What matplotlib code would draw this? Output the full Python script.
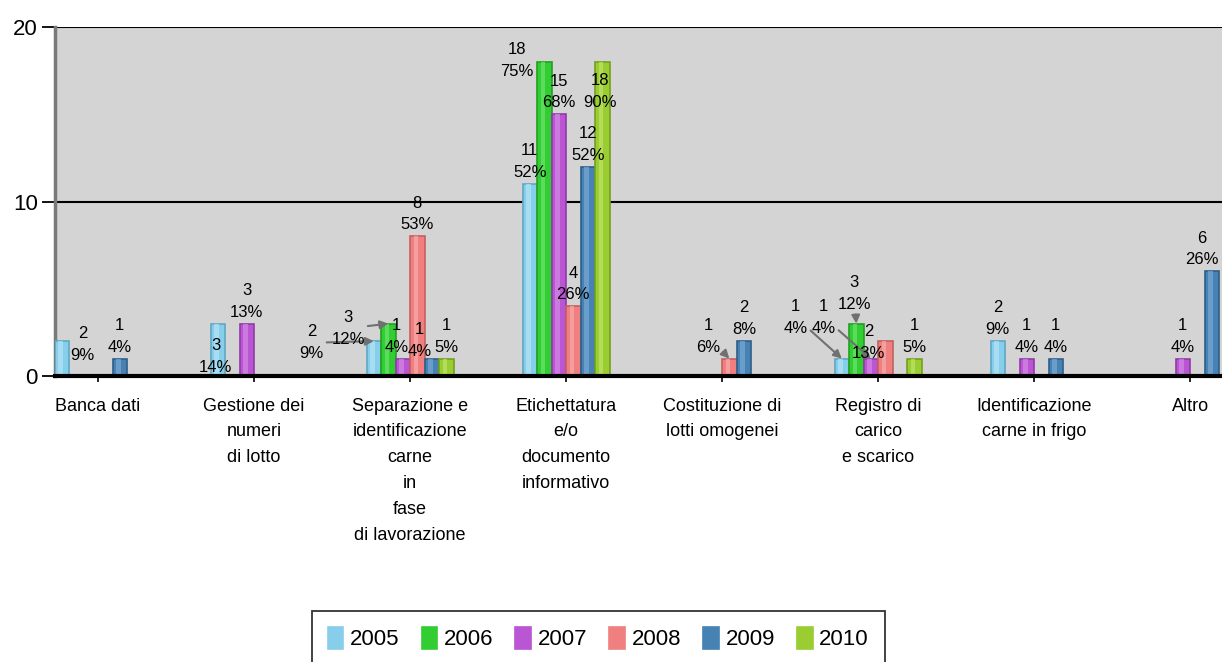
import matplotlib.pyplot as plt
import numpy as np

plt.rcParams['font.family'] = ['Liberation Sans', 'DejaVu Sans']

categories = ["Banca dati", "Gestione dei\nnumeri\ndi lotto",
              "Separazione e\nidentificazione\ncarne\nin\nfase\ndi lavorazione",
              "Etichettatura\ne/o\ndocumento\ninformativo",
              "Costituzione di\nlotti omogenei", "Registro di\ncarico\ne scarico",
              "Identificazione\ncarne in frigo", "Altro"]
years = ["2005", "2006", "2007", "2008", "2009", "2010"]

v2005 = [2, 3, 2, 11, 0, 1, 2, 0]
v2006 = [0, 0, 3, 18, 0, 3, 0, 0]
v2007 = [0, 3, 1, 15, 0, 1, 1, 1]
v2008 = [0, 0, 8, 4, 1, 2, 0, 0]
v2009 = [1, 0, 1, 12, 2, 0, 1, 6]
v2010 = [0, 0, 1, 18, 0, 1, 0, 0]

p2005 = [9, 14, 9, 52, 0, 4, 9, 0]
p2006 = [0, 0, 12, 75, 0, 12, 0, 0]
p2007 = [0, 13, 4, 68, 0, 4, 4, 4]
p2008 = [0, 0, 53, 26, 6, 13, 0, 0]
p2009 = [4, 0, 4, 52, 8, 0, 4, 26]
p2010 = [0, 0, 5, 90, 0, 5, 0, 0]

values = [v2005, v2006, v2007, v2008, v2009, v2010]
percents = [p2005, p2006, p2007, p2008, p2009, p2010]
colors = ["#87CEEB", "#32CD32", "#BA55D3", "#F08080", "#4682B4", "#9ACD32"]
edges = ["#5FA8C4", "#23A023", "#8E3CA6", "#C46060", "#2F5F88", "#74A020"]
lights = ["#B5E4F5", "#6FE36F", "#D48BE6", "#F7ABAB", "#7AA9D2", "#BFE36A"]

# label shifts in pixels (category, series) -> (dx, dy, arrow)
shifts = {
    (0, 0): (21, -26, False),
    (1, 0): (-2, -55, False),
    (2, 0): (-62, -24, True),
    (2, 1): (-40, -27, True),
    (2, 2): (-6, 0, False),
    (2, 4): (-12, -4, False),
    (3, 1): (-27, -21, False),
    (3, 5): (-2, -52, False),
    (4, 3): (-21, 0, True),
    (5, 0): (-46, 19, True),
    (5, 1): (-2, 8, True),
    (5, 2): (-47, 19, True),
    (5, 3): (-17, -24, False),
    (7, 4): (-10, 0, False),
}

fig = plt.figure(figsize=(12.22, 6.62), dpi=100)
ax = fig.add_axes([55 / 1222, 286 / 662, 1175 / 1222, 349 / 662])
ax.set_facecolor("#D4D4D4")

w = 0.093
x = np.arange(len(categories))
for i, (vals, pc) in enumerate(zip(values, percents)):
    pos = x + (i - 2.5) * w
    ax.bar(pos, vals, width=w, color=colors[i], edgecolor=edges[i],
           linewidth=1.2, zorder=3, label=years[i])
    # soft highlight down the middle of each bar
    ax.bar(pos - w * 0.08, vals, width=w * 0.3, color=lights[i],
           linewidth=0, zorder=3.5, alpha=0.7)
    for j in range(len(categories)):
        if vals[j] == 0:
            continue
        dx, dy, arrow = shifts.get((j, i), (0, 0, False))
        props = None
        if arrow:
            props = dict(arrowstyle="-|>", color="#707070", lw=1.5, shrinkA=0, shrinkB=0)
        ax.annotate(f"{vals[j]}\n{pc[j]}%", xy=(pos[j], vals[j]),
                    xytext=(dx, 4 + dy), textcoords="offset pixels",
                    ha="center", va="bottom", fontsize=12, linespacing=1.55,
                    zorder=5, arrowprops=props)

for yv in [10, 20]:
    ax.axhline(yv, color="black", lw=1.5, zorder=1)

ax.set_xlim(-0.276, 7.256)
ax.set_ylim(0, 20)
ax.set_yticks([0, 10, 20])
ax.tick_params(axis="y", length=9.5, width=1.3, labelsize=16, pad=3)
ax.set_xticks(x)
ax.set_xticklabels(categories, fontsize=13, linespacing=1.68)
ax.tick_params(axis="x", length=4.5, width=1.2, pad=11)

ax.spines["top"].set_visible(False)
ax.spines["right"].set_visible(False)
ax.spines["left"].set_color("#7A7A7A")
ax.spines["left"].set_linewidth(2.5)
ax.spines["bottom"].set_color("black")
ax.spines["bottom"].set_linewidth(3)
ax.spines["bottom"].set_zorder(4)

handles, labels = ax.get_legend_handles_labels()
leg = fig.legend(handles[:6], labels[:6], loc="upper left",
                 bbox_to_anchor=(312 / 1222, 1 - 611 / 662), borderaxespad=0,
                 ncol=6, fontsize=16, frameon=True, fancybox=False,
                 handlelength=0.7, handleheight=1.15, handletextpad=0.3,
                 columnspacing=1.0, borderpad=0.7)
leg.get_frame().set_edgecolor("black")
leg.get_frame().set_linewidth(1.3)
for h, c in zip(leg.legend_handles, colors):
    h.set_edgecolor(c)

fig.savefig("out.png", dpi=100)
